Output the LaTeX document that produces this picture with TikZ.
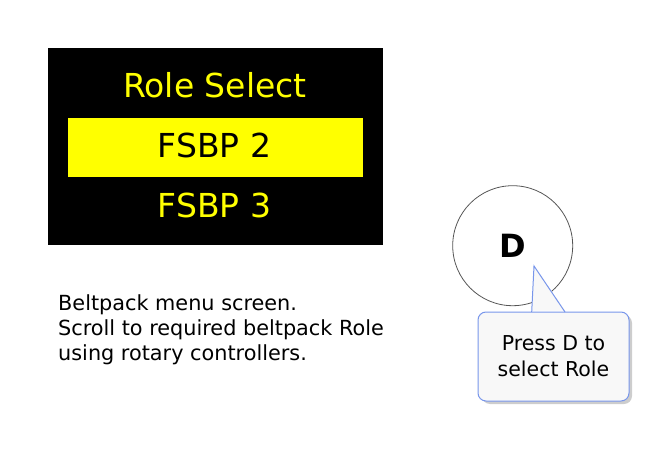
\documentclass[tikz,border=0pt]{standalone}
\usepackage{fontspec}
\setmainfont{DejaVu Sans}
\definecolor{scrnyellow}{RGB}{255,255,0}
\definecolor{callborder}{RGB}{120,150,235}
\definecolor{callfill}{RGB}{248,248,248}
\definecolor{shadowgray}{RGB}{205,205,205}
\definecolor{ringgray}{RGB}{85,85,85}
\tikzset{
  screentext/.style={inner sep=0, anchor=base, text=scrnyellow, font=\fontsize{33}{40}\selectfont},
  calloutbox/.style={draw=callborder, line width=1pt, fill=callfill, rounded corners=8pt,
     minimum width=151pt, minimum height=89pt, inner sep=0, align=center,
     font=\fontsize{20.5}{26}\selectfont},
}
\begin{document}
\begin{tikzpicture}[x=1pt,y=-1pt]
\useasboundingbox (0,0) rectangle (657,455);
% screen
\node[fill=black, minimum width=335pt, minimum height=197pt, inner sep=0] (screen) at (215,146.5) {};
\node[fill=scrnyellow, minimum width=295pt, minimum height=59pt, inner sep=0] (sel) at (215.5,147.5) {};
\node[screentext] (title) at (215,97) {Role Select};
\node[screentext, text=black] (item2) at (214.5,157) {FSBP 2};
\node[screentext] (item3) at (214.5,217) {FSBP 3};
% description
\node[inner sep=0, anchor=base west, align=left, font=\fontsize{20.8}{25}\selectfont] (desc) at (58,360)
  {Beltpack menu screen.\\Scroll to required beltpack Role\\using rotary controllers.};
% button
\node[circle, draw=ringgray, line width=0.8pt, minimum size=120pt, inner sep=0,
      font=\fontsize{32}{38}\selectfont\bfseries] (btn) at (512.7,245.7) {D};
% callout
\fill[shadowgray, rounded corners=8pt] (482,315) rectangle (632,404);
\node[calloutbox] (call) at (553.5,356.5) {Press D to\\select Role};
\coordinate (tip) at (534,266);
\coordinate (pl) at (531.7,312);
\coordinate (pr) at (565,312);
\fill[callfill] ([yshift=1.5pt]pl) -- (tip) -- ([yshift=1.5pt]pr) -- cycle;
\draw[callborder, line width=1pt, line join=miter] (pl) -- (tip) -- (pr);
\end{tikzpicture}
\end{document}
